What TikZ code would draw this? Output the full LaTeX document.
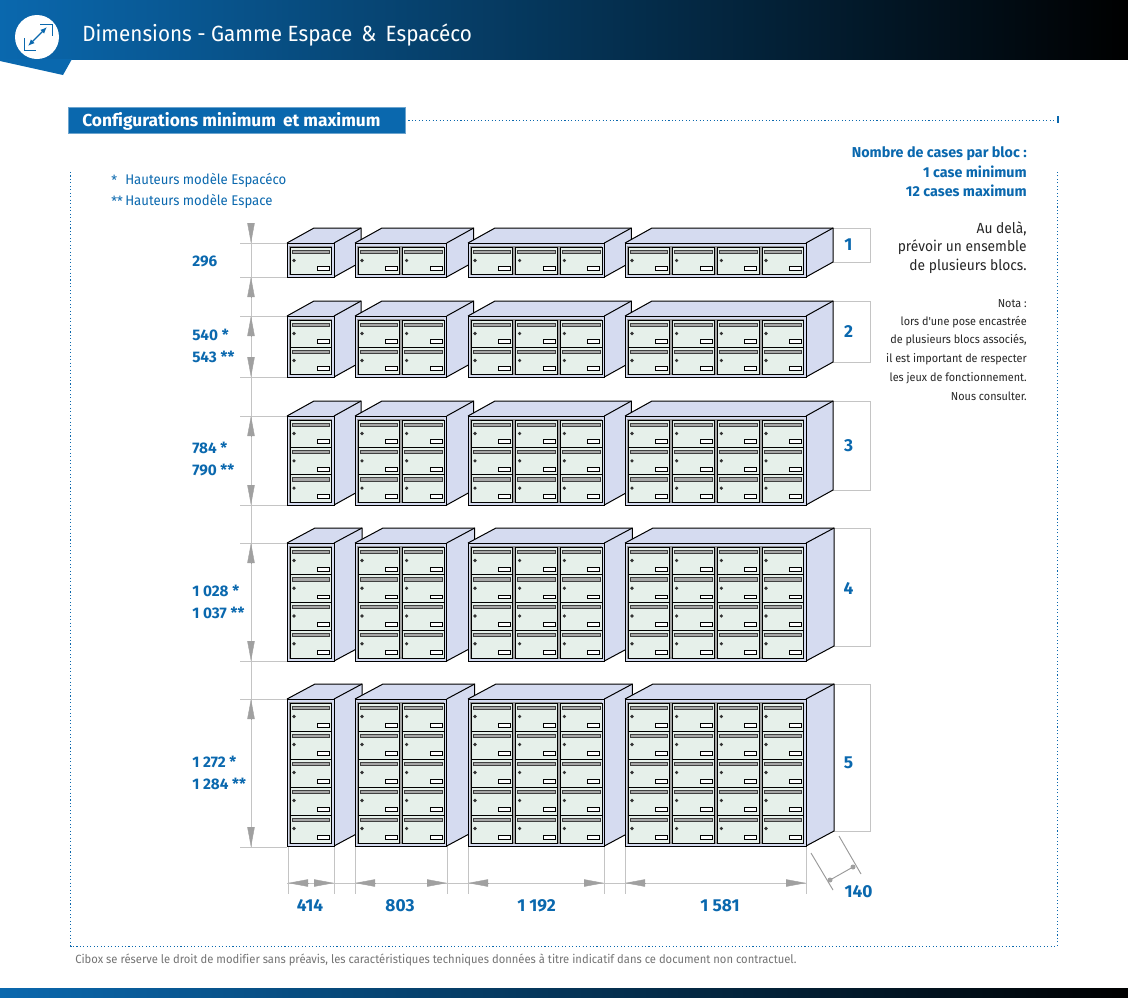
\documentclass[tikz,border=0pt]{standalone}
\usepackage{fontspec}
\setmainfont{Fira Sans}[Ligatures=NoCommon]
\newfontfamily\cinarrow{Fira Sans}[FakeStretch=0.94,Ligatures=NoCommon]
\usetikzlibrary{arrows.meta}
\definecolor{ciblue}{HTML}{0A68AE}
\definecolor{cidark}{HTML}{003A60}
\definecolor{cilav}{HTML}{D5DBF0}
\definecolor{cicell}{HTML}{E6F0EA}
\definecolor{ciline}{HTML}{C4C4C4}
\definecolor{citip}{HTML}{A0A0A0}
\tikzset{
	dimline/.style={draw=ciline, line width=0.7pt},
	dimtip/.style={draw=citip, -{Triangle[length=15pt,width=5.5pt,color=citip]}, line width=0.3pt},
	dotline/.style={draw=ciblue, line width=0.7pt, dash pattern=on 0.8pt off 1.8pt},
	blocline/.style={draw=black, line width=0.75pt},
	dimbold/.style={font=\fontsize{11.5}{13}\selectfont\bfseries, text=ciblue, inner sep=0pt},
	dimbig/.style={font=\fontsize{13}{15}\selectfont\bfseries, text=ciblue, inner sep=0pt},
	blueline/.style={font=\fontsize{10.75}{12}\selectfont\bfseries, text=ciblue, anchor=east, inner sep=0pt},
	blackline/.style={font=\cinarrow\fontsize{11}{12}\selectfont, text=black!85, anchor=east, inner sep=0pt},
	notaline/.style={font=\cinarrow\fontsize{8.65}{10}\selectfont, text=black!85, anchor=east, inner sep=0pt},
	legendline/.style={font=\cinarrow\fontsize{10.5}{12}\selectfont, text=ciblue, anchor=west, inner sep=0pt},
}
% one bloc: x, top, bottom, columns, rows, depth in x
\newcommand{\bloc}[6]{%
	\pgfmathsetmacro{\blocw}{47+44.67*(#4-1)}
	\pgfmathsetmacro{\cellh}{(#3-#2-7)/#5}
	\fill[cilav] (#1,#2) -- ++(#6,-15) -- ++(\blocw,0) -- ++(0,#3-#2) -- ++(-#6,15) -- ++(0,-#3+#2) -- cycle;
	\draw[blocline] (#1,#2) -- ++(#6,-15) -- ++(\blocw,0) -- ++(0,#3-#2) -- ++(-#6,15);
	\draw[blocline] (#1+\blocw,#2) -- ++(#6,-15);
	\draw[blocline, fill=cilav] (#1,#2) rectangle ++(\blocw,#3-#2);
	\draw[draw=gray!85, line width=1pt, fill=gray!70] (#1+3,#2+4) rectangle (#1+\blocw-3,#3-3);
	\foreach \c in {1,...,#4} {
		\foreach \r in {1,...,#5} {
			\pgfmathsetmacro{\cx}{#1+3+44.67*(\c-1)}
			\pgfmathsetmacro{\cy}{#2+4+\cellh*(\r-1)}
			\draw[draw=black, line width=0.55pt, fill=cicell] (\cx,\cy) rectangle ++(41.6,\cellh);
			\draw[draw=black!75, line width=0.45pt, fill=gray!70] (\cx+2,\cy+3) rectangle ++(37.6,3.2);
			\fill[black!80] (\cx+4,\cy+13.5) circle (1.8);
			\draw[draw=black, line width=0.55pt, fill=white] (\cx+27.5,\cy+\cellh-7.5) rectangle ++(12,3.8);
		}
	}
}
\begin{document}
\begin{tikzpicture}[x=0.75pt,y=-0.75pt]
	\useasboundingbox (0,0) rectangle (1128,997);
	% bandeaux
	\shade[left color=ciblue, middle color=cidark, right color=black] (0,0) rectangle (1128,59);
	\fill[ciblue] (0,59) -- (0,61) -- (63,75) -- (72,59) -- cycle;
	\shade[left color=ciblue, middle color=cidark, right color=black] (0,988) rectangle (1128,997);
	\node (iconround) at (37,37) [circle, fill=white, minimum size=33pt, inner sep=0pt] {};
	\draw[ciblue, line width=0.9pt, {Latex[length=5pt,width=4pt]}-{Latex[length=5pt,width=4pt]}] (28,46) -- (47,27);
	\draw[ciblue, line width=0.7pt] (40,24) -- (52,24) -- (52,36);
	\draw[ciblue, line width=0.7pt] (24,38) -- (24,50) -- (36,50);
	\node (title) at (82,35) [anchor=west, inner sep=0pt, text=white, font=\cinarrow\fontsize{16.5}{18}\selectfont] {Dimensions - Gamme Espace \,\&\, Espacéco};
	% cadre pointille
	\draw[dotline] (405,120) -- (1057,120);
	\draw[ciblue, line width=1.4pt] (1058,116) -- (1058,123);
	\draw[dotline] (70.5,172) -- (70.5,946) -- (1057.5,946) -- (1057.5,172);
	\node (section) at (68,107) [anchor=north west, inner sep=0pt, fill=ciblue, draw=ciblue!60, line width=0.4pt, minimum width=253pt, minimum height=19.5pt] {};
	\node (sectiontext) at (82,121) [anchor=west, inner sep=0pt, text=white, font=\fontsize{13}{15}\selectfont\bfseries] {Configurations minimum \,et maximum};
	% cotes hauteurs
	\draw[dimline] (251,223) -- (251,847);
	\foreach \ya in {243,277,316,377,416,505,543,661,699,847} {
		\draw[dimline] (240,\ya) -- (287,\ya);
	}
	\draw[dimtip] (251,223) -- (251,243);
	\draw[dimtip] (251,297) -- (251,277);
	\foreach \ya/\yb in {316/377,416/505,543/661,699/847} {
		\draw[dimtip] (251,\ya+20) -- (251,\ya);
		\draw[dimtip] (251,\yb-20) -- (251,\yb);
	}
	% cadres des numeros
	\foreach \yt/\yb in {228/262,301/362,401/490,528/646,684/831} {
		\draw[dimline] (825,\yt) -- (870,\yt) -- (870,\yb) -- (825,\yb);
	}
	% cotes largeurs
	\draw[dimline] (287,883) -- (806,883);
	\foreach \xa/\xb in {288/334,355/447,468/604,625/806} {
		\draw[dimline] (\xa,846) -- (\xa,894);
		\draw[dimline] (\xb,846) -- (\xb,894);
		\draw[dimtip] (\xa+20,883) -- (\xa,883);
		\draw[dimtip] (\xb-20,883) -- (\xb,883);
	}
	% blocs
	\foreach \top/\bot/\rows/\deep in {243/277/1/27,316/377/2/27,416/505/3/27,543/661/4/28,699/846/5/28} {
		\foreach \x/\cols in {287/1,355/2,468/3,625/4} {
			\bloc{\x}{\top}{\bot}{\cols}{\rows}{\deep}
		}
	}
	% profondeur
	\draw[draw=gray!80, line width=0.7pt] (811,853) -- (833,890);
	\draw[draw=gray!80, line width=0.7pt] (839,836) -- (861,874);
	\coordinate (deepa) at (830,880);
	\coordinate (deepb) at (853,867);
	\draw[draw=gray!80, line width=0.7pt] (deepa) -- (deepb);
	\fill[citip] (deepa) circle (2.5);
	\fill[citip] (deepb) circle (2.5);
	% textes
	\foreach \n/\y in {1/245,2/332,3/446,4/588,5/763} {
		\node (num\n) at (848.5,\y) [dimbig] {\n};
	}
	\node (h296) at (192,261) [dimbold, anchor=west] {296};
	\node (h540) at (192,335) [dimbold, anchor=west] {540 *};
	\node (h543) at (192,357) [dimbold, anchor=west] {543 **};
	\node (h784) at (192,448) [dimbold, anchor=west] {784 *};
	\node (h790) at (192,470) [dimbold, anchor=west] {790 **};
	\node (h1028) at (192,591) [dimbold, anchor=west] {1 028 *};
	\node (h1037) at (192,613) [dimbold, anchor=west] {1 037 **};
	\node (h1272) at (192,762) [dimbold, anchor=west] {1 272 *};
	\node (h1284) at (192,784) [dimbold, anchor=west] {1 284 **};
	\node (w414) at (310,905) [dimbig] {414};
	\node (w803) at (400,906) [dimbig] {803};
	\node (w1192) at (536.5,906) [dimbig] {1 192};
	\node (w1581) at (720,906) [dimbig] {1 581};
	\node (d140) at (858.5,891.5) [dimbig] {140};
	\node (legstar) at (111,180) [legendline] {*};
	\node (legstarb) at (111,201) [legendline] {**};
	\node (lega) at (125,180) [legendline] {Hauteurs modèle Espacéco};
	\node (legb) at (125,201) [legendline] {Hauteurs modèle Espace};
	\node (nba) at (1027,153.5) [blueline] {Nombre de cases par bloc :};
	\node (nbb) at (1027,171.5) [blueline] {1 case minimum};
	\node (nbc) at (1027,190.5) [blueline] {12 cases maximum};
	\node (aua) at (1027,229) [blackline] {Au delà,};
	\node (aub) at (1027,247) [blackline] {prévoir un ensemble};
	\node (auc) at (1027,266) [blackline] {de plusieurs blocs.};
	\node (nota) at (1027,303.5) [notaline] {Nota :};
	\node (notb) at (1027,322.5) [notaline] {lors d'une pose encastrée};
	\node (notc) at (1027,340.5) [notaline] {de plusieurs blocs associés,};
	\node (notd) at (1027,359.5) [notaline] {il est important de respecter};
	\node (note) at (1027,378.5) [notaline] {les jeux de fonctionnement.};
	\node (notf) at (1027,396.5) [notaline] {Nous consulter.};
	\node (foot) at (75,960) [anchor=west, inner sep=0pt, text=black!55, font=\cinarrow\fontsize{8.95}{10}\selectfont] {Cibox se réserve le droit de modifier sans préavis, les caractéristiques techniques données à titre indicatif dans ce document non contractuel.};
\end{tikzpicture}
\end{document}
